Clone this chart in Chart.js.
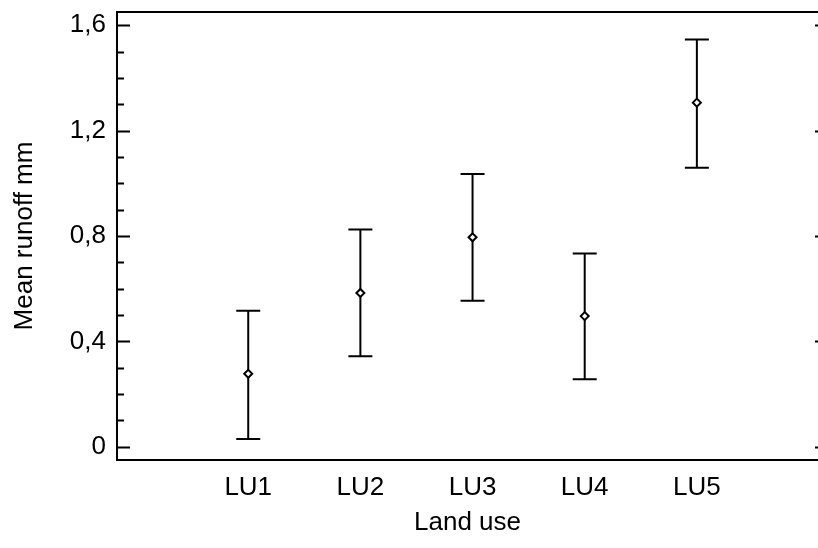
<!DOCTYPE html>
<html lang="en">
<head>
  <meta charset="UTF-8">
  <title>Mean runoff by land use</title>
  <script src="https://cdn.jsdelivr.net/npm/chart.js"></script>
  <style>
    body {
      margin: 0;
      background: #ffffff;
    }

    #wrap {
      width: 818px;
      height: 548px;
    }
  </style>
</head>
<body>

  <div id="wrap"><canvas id="runoffChart"></canvas></div>

  <script>
    const categories = ['LU1', 'LU2', 'LU3', 'LU4', 'LU5'];
    const means = [0.277, 0.584, 0.795, 0.496, 1.306];
    const lower = [0.030, 0.344, 0.554, 0.256, 1.059];
    const upper = [0.516, 0.825, 1.035, 0.734, 1.546];
    const yTicks = [0, 0.4, 0.8, 1.2, 1.6];
    const yMinorTicks = [0.1, 0.2, 0.3, 0.5, 0.6, 0.7, 0.9, 1.0, 1.1, 1.3, 1.4, 1.5];

    const font = { family: "'Liberation Sans', Arial, sans-serif", size: 26 };

    // no extra room for labels hanging over the plot edges
    function noOverflow(s) {
      s.paddingTop = 0;
      s.paddingBottom = 0;
      s.paddingLeft = 0;
      s.paddingRight = 0;
    }

    // error bars, inward tick marks and the top frame line
    const decorations = {
      id: 'decorations',
      beforeDatasetsDraw(chart) {
        const { ctx, chartArea, scales: { x, y } } = chart;
        ctx.save();
        ctx.strokeStyle = '#000';
        ctx.lineWidth = 2;

        categories.forEach((c, i) => {
          const px = x.getPixelForValue(i + 1);
          const top = y.getPixelForValue(upper[i]);
          const bot = y.getPixelForValue(lower[i]);
          ctx.beginPath();
          ctx.moveTo(px, top);
          ctx.lineTo(px, bot);
          ctx.moveTo(px - 12, top);
          ctx.lineTo(px + 12, top);
          ctx.moveTo(px - 12, bot);
          ctx.lineTo(px + 12, bot);
          ctx.stroke();
        });

        ctx.beginPath();
        yTicks.forEach(v => {
          const py = Math.round(y.getPixelForValue(v)) + 0.5;
          ctx.moveTo(chartArea.left, py);
          ctx.lineTo(chartArea.left + 13, py);
          ctx.moveTo(chartArea.right - 3, py);
          ctx.lineTo(chartArea.right, py);
        });
        yMinorTicks.forEach(v => {
          const py = Math.round(y.getPixelForValue(v)) + 0.5;
          ctx.moveTo(chartArea.left, py);
          ctx.lineTo(chartArea.left + 7, py);
        });
        ctx.stroke();

        ctx.beginPath();
        ctx.moveTo(chartArea.left, chartArea.top);
        ctx.lineTo(chartArea.right, chartArea.top);
        ctx.stroke();
        ctx.restore();
      }
    };

    const ctx = document.getElementById('runoffChart').getContext('2d');

    new Chart(ctx, {
      type: 'scatter',
      data: {
        datasets: [{
          label: 'Mean runoff',
          data: categories.map((c, i) => ({ x: i + 1, y: means[i] })),
          pointStyle: 'rectRot',
          pointRadius: 4,
          pointBorderWidth: 2,
          pointBackgroundColor: '#ffffff',
          pointBorderColor: '#000000'
        }]
      },
      options: {
        responsive: true,
        maintainAspectRatio: false,
        animation: false,
        layout: { autoPadding: false, padding: { top: 12, left: 0, right: 0, bottom: 0 } },
        plugins: {
          legend: { display: false },
          tooltip: { enabled: false }
        },
        scales: {
          x: {
            type: 'linear',
            min: -0.17,
            max: 6.08,
            afterBuildTicks: s => { s.ticks = categories.map((c, i) => ({ value: i + 1 })); },
            afterFit: s => { s.height = 88; noOverflow(s); },
            grid: { display: false, drawTicks: false },
            border: { display: true, color: '#000', width: 2 },
            ticks: {
              color: '#000',
              font: font,
              padding: 12,
              maxRotation: 0,
              callback: v => categories[v - 1]
            },
            title: {
              display: true,
              text: 'Land use',
              color: '#000',
              font: font,
              padding: { top: 0, bottom: 10 }
            }
          },
          y: {
            min: -0.05,
            max: 1.65,
            afterBuildTicks: s => { s.ticks = yTicks.map(v => ({ value: v })); },
            afterFit: s => { s.width = 117; noOverflow(s); },
            grid: { display: false, drawTicks: false },
            border: { display: true, color: '#000', width: 2 },
            ticks: {
              color: '#000',
              font: font,
              padding: 11,
              callback: v => String(v).replace('.', ',')
            },
            title: {
              display: true,
              text: 'Mean runoff mm',
              color: '#000',
              font: font,
              padding: { top: 9, bottom: 0 }
            }
          }
        }
      },
      plugins: [decorations]
    });
  </script>

</body>
</html>
